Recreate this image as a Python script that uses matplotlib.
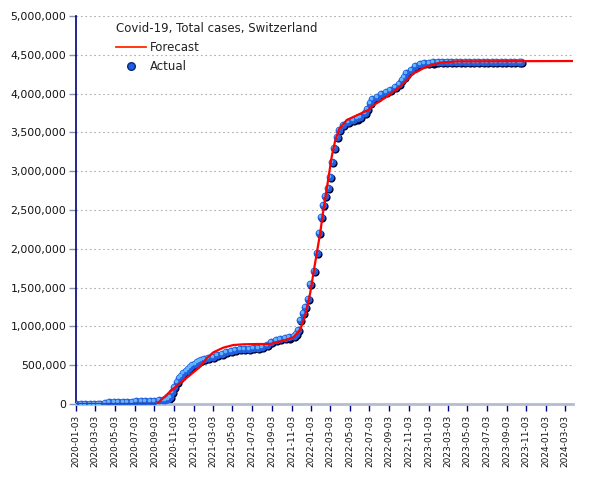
import matplotlib
matplotlib.use('Agg')
import matplotlib.pyplot as plt
import matplotlib.dates as mdates
import matplotlib.ticker as mticker
from matplotlib.lines import Line2D
from matplotlib.transforms import offset_copy
import pandas as pd

title = 'Covid-19, Total cases, Switzerland'

actual_dates = [
    '2020-01-03', '2020-01-17', '2020-01-31', '2020-02-14', '2020-02-28', '2020-03-10',
    '2020-03-18', '2020-04-01', '2020-04-15', '2020-04-29', '2020-05-13', '2020-05-27',
    '2020-06-10', '2020-06-24', '2020-07-08', '2020-07-22', '2020-08-05', '2020-08-19',
    '2020-09-02', '2020-09-16', '2020-09-30', '2020-10-07', '2020-10-14', '2020-10-21',
    '2020-10-28', '2020-11-04', '2020-11-11', '2020-11-18', '2020-11-25', '2020-12-02',
    '2020-12-09', '2020-12-16', '2020-12-23', '2020-12-30', '2021-01-06', '2021-01-13',
    '2021-01-20', '2021-01-27', '2021-02-03', '2021-02-17', '2021-03-03', '2021-03-17',
    '2021-03-31', '2021-04-14', '2021-04-28', '2021-05-12', '2021-05-26', '2021-06-09',
    '2021-06-23', '2021-07-07', '2021-07-21', '2021-08-04', '2021-08-18', '2021-09-01',
    '2021-09-15', '2021-09-29', '2021-10-13', '2021-10-27', '2021-11-10', '2021-11-17',
    '2021-11-24', '2021-11-30', '2021-12-08', '2021-12-15', '2021-12-24', '2021-12-31',
    '2022-01-12', '2022-01-21', '2022-01-28', '2022-02-03', '2022-02-08', '2022-02-15',
    '2022-02-24', '2022-03-03', '2022-03-09', '2022-03-16', '2022-03-24', '2022-04-01',
    '2022-04-12', '2022-04-29', '2022-05-12', '2022-05-25', '2022-06-05', '2022-06-20',
    '2022-06-27', '2022-07-05', '2022-07-12', '2022-07-26', '2022-08-09', '2022-08-23',
    '2022-09-06', '2022-09-20', '2022-10-04', '2022-10-11', '2022-10-18', '2022-10-25',
    '2022-11-08', '2022-11-22', '2022-12-06', '2022-12-20', '2023-01-03', '2023-01-17',
    '2023-01-31', '2023-02-14', '2023-02-28', '2023-03-14', '2023-03-28', '2023-04-11',
    '2023-04-25', '2023-05-09', '2023-05-23', '2023-06-06', '2023-06-20', '2023-07-04',
    '2023-07-18', '2023-08-01', '2023-08-15', '2023-08-29', '2023-09-12', '2023-09-26',
    '2023-10-10', '2023-10-18',
]
actual_cases = [
    0, 0, 0, 0, 20, 500,
    3000, 17000, 26000, 29500, 30400, 30800,
    31000, 31400, 32900, 34500, 36100, 38500,
    42000, 46000, 52000, 56000, 68000, 95000,
    160000, 215000, 285000, 330000, 365000, 395000,
    425000, 455000, 480000, 497000, 520000, 545000,
    560000, 572000, 580000, 595000, 612000, 630000,
    648000, 668000, 688000, 700000, 708000, 712000,
    715000, 718000, 725000, 740000, 765000, 800000,
    825000, 838000, 846000, 857000, 880000, 905000,
    960000, 1080000, 1170000, 1250000, 1350000, 1550000,
    1720000, 1950000, 2210000, 2410000, 2570000, 2680000,
    2780000, 2930000, 3120000, 3300000, 3440000, 3530000,
    3600000, 3640000, 3660000, 3680000, 3700000, 3750000,
    3800000, 3880000, 3930000, 3960000, 3990000, 4020000,
    4050000, 4080000, 4130000, 4180000, 4220000, 4260000,
    4310000, 4350000, 4380000, 4390000, 4400000, 4402000,
    4403000, 4404000, 4405000, 4405000, 4406000, 4406000,
    4407000, 4407000, 4408000, 4408000, 4408000, 4409000,
    4409000, 4409000, 4410000, 4410000, 4410000, 4410000,
    4410000, 4410000,
]

forecast_dates = [
    '2020-01-03', '2020-09-10', '2020-10-21', '2020-11-21', '2020-12-23', '2021-01-23',
    '2021-02-12', '2021-03-05', '2021-04-05', '2021-05-06', '2021-06-06', '2021-07-18',
    '2021-08-28', '2021-10-09', '2021-11-09', '2021-11-30', '2021-12-15', '2021-12-31',
    '2022-01-15', '2022-01-31', '2022-02-10', '2022-02-23', '2022-03-08', '2022-03-19',
    '2022-04-01', '2022-04-24', '2022-05-25', '2022-06-30', '2022-07-16', '2022-08-26',
    '2022-10-07', '2022-11-17', '2022-12-29', '2023-02-08', '2023-04-01', '2024-03-27',
]
forecast_cases = [
    0, 0, 158000, 267000, 374000, 481000,
    589000, 666000, 726000, 760000, 769000, 773000,
    773000, 816000, 860000, 960000, 1130000, 1430000,
    1810000, 2200000, 2500000, 2840000, 3190000, 3400000,
    3550000, 3660000, 3720000, 3790000, 3850000, 3960000,
    4090000, 4260000, 4350000, 4400000, 4415000, 4420000,
]

tick_dates = pd.date_range('2020-01-01', '2024-03-01', freq='2MS') + pd.Timedelta(days=2)

ad = pd.to_datetime(actual_dates)
fd = pd.to_datetime(forecast_dates)

fig = plt.figure(figsize=(6.05, 4.8), dpi=100)
ax = fig.add_axes([76 / 605, 1 - 404 / 480, (573 - 76) / 605, (404 - 16) / 480])

# sphere-like markers: shadow, body, highlight
ms = 5.6
shadow = offset_copy(ax.transData, fig=fig, x=0.9, y=-1.1, units='dots')
light = offset_copy(ax.transData, fig=fig, x=-1.0, y=1.0, units='dots')
ax.plot(ad, actual_cases, 'o', ms=ms + 0.3, color='#00002e', mec='none', transform=shadow, zorder=2)
ax.plot(ad, actual_cases, 'o', ms=ms, color='#1f5fe0', mec='none', zorder=3)
ax.plot(ad, actual_cases, 'o', ms=2.6, color='#62b4ff', mec='none', transform=light, zorder=4)

ax.plot(fd, forecast_cases, color='#ff0000', lw=1.6, zorder=5)

ax.set_xlim(pd.Timestamp('2020-01-03'), pd.Timestamp('2024-03-27'))
ax.set_ylim(0, 5000000)
ax.set_yticks(range(0, 5000001, 500000))
ax.yaxis.set_major_formatter(mticker.FuncFormatter(lambda v, p: f'{int(v):,}'))
ax.set_xticks(tick_dates)
ax.xaxis.set_major_formatter(mdates.DateFormatter('%Y-%m-%d'))
plt.setp(ax.get_xticklabels(), rotation=90, fontsize=6.5, color='#111111')
plt.setp(ax.get_yticklabels(), fontsize=7.8, color='#111111')
ax.tick_params(axis='x', length=5, width=1, color='#000080', pad=3)
ax.tick_params(axis='y', length=5, width=1, color='#8890b0', pad=2)

ax.yaxis.grid(True, color='#b0b0b0', linestyle=(0, (1.5, 2.5)), lw=0.8)
ax.set_axisbelow(True)
for s in ('top', 'right'):
    ax.spines[s].set_visible(False)
ax.spines['left'].set_color('#000080')
ax.spines['left'].set_linewidth(1.2)
ax.spines['bottom'].set_color('#b4bcd4')
ax.spines['bottom'].set_linewidth(2)

handles = [
    Line2D([], [], color='#ff2a00', lw=1.3),
    Line2D([], [], marker='o', ls='none', ms=5.5, color='#1f5fe0', mec='#0a2a80'),
]
leg = fig.legend(handles, ['Forecast', 'Actual'], title=title, loc='upper left',
                 bbox_to_anchor=(116 / 605, 1 - 22 / 480), frameon=False, fontsize=8.5,
                 title_fontsize=8.5, borderpad=0, borderaxespad=0, handlelength=2.55,
                 handletextpad=0.3, labelspacing=0.5, alignment='left')
for t in leg.get_texts():
    t.set_color('#222222')
leg.get_title().set_color('#222222')

fig.savefig('out.png', dpi=100)
